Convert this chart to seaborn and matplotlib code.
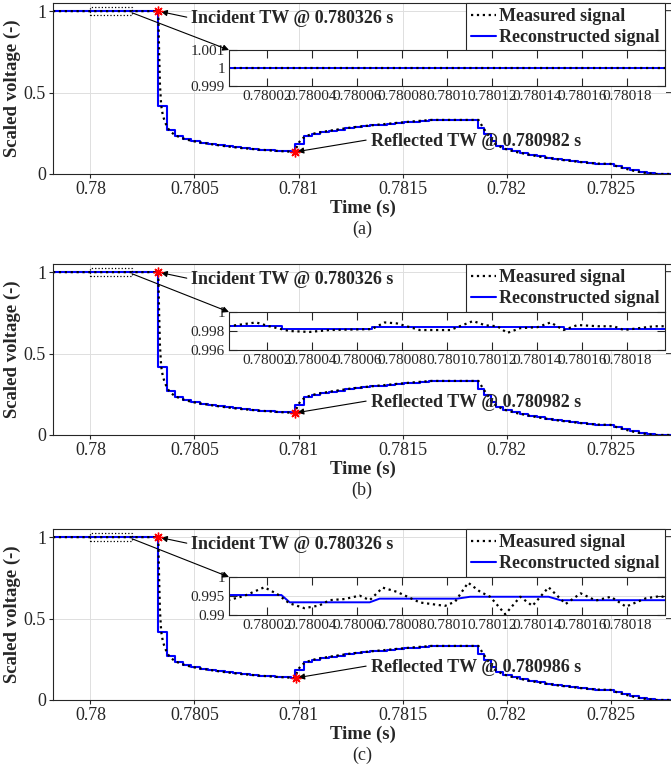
import matplotlib
matplotlib.use("Agg")
import matplotlib.pyplot as plt
import seaborn as sns
import pandas as pd
from matplotlib.lines import Line2D
from matplotlib.patches import Rectangle

W, H = 671, 773
T0 = 0.78  # all time offsets below are microseconds after 0.78 s

# main traces (same shape in the three cases)
rec_us = [-180, 326, 366, 405, 445, 485, 525, 565, 605, 645, 685, 725, 765, 805,
          845, 885, 925, 965, 982, 1025, 1065, 1105, 1145, 1185, 1225, 1265, 1305,
          1345, 1385, 1425, 1465, 1505, 1545, 1585, 1625, 1865, 1890, 1925, 1950,
          1985, 2025, 2065, 2105, 2145, 2185, 2225, 2265, 2305, 2345, 2385, 2425,
          2515, 2555, 2595, 2635, 2675, 2715, 2800]
rec_v = [1.0, 0.42, 0.27, 0.235, 0.215, 0.203, 0.193, 0.185, 0.178, 0.171, 0.165,
         0.159, 0.154, 0.150, 0.146, 0.142, 0.139, 0.136, 0.185, 0.232, 0.245, 0.256,
         0.265, 0.273, 0.280, 0.287, 0.293, 0.298, 0.303, 0.308, 0.313, 0.318, 0.322,
         0.327, 0.332, 0.285, 0.245, 0.205, 0.172, 0.155, 0.140, 0.128, 0.118, 0.108,
         0.100, 0.093, 0.086, 0.080, 0.074, 0.069, 0.062, 0.047, 0.035, 0.022, 0.012,
         0.004, 0.0, 0.0]

meas_us = [-180, 326, 330, 334, 340, 348, 358, 370, 385, 405, 430, 460, 500, 560,
           640, 720, 800, 880, 960, 982, 990, 1000, 1015, 1040, 1080, 1150, 1250,
           1350, 1450, 1550, 1640, 1865, 1880, 1900, 1925, 1950, 1990, 2050, 2150,
           2250, 2350, 2430, 2500, 2530, 2570, 2620, 2670, 2720, 2800]
meas_v = [1.0, 1.0, 0.75, 0.55, 0.42, 0.36, 0.32, 0.285, 0.26, 0.24, 0.225, 0.212,
          0.200, 0.187, 0.172, 0.160, 0.151, 0.143, 0.137, 0.135, 0.16, 0.19, 0.215,
          0.235, 0.25, 0.266, 0.285, 0.299, 0.311, 0.323, 0.332, 0.332, 0.30, 0.26,
          0.215, 0.18, 0.155, 0.134, 0.108, 0.089, 0.074, 0.064, 0.062, 0.048, 0.033,
          0.017, 0.006, 0.0, 0.0]

# inset traces
ins_a_rec_us = [0, 200]
ins_a_rec_v = [1.0, 1.0]
ins_a_meas_us = [0, 200]
ins_a_meas_v = [1.0, 1.0]

ins_b_rec_us = [0, 26.7, 26.7, 66.5, 66.5, 151.9, 151.9, 200]
ins_b_rec_v = [0.99853, 0.99853, 0.99818, 0.99818, 0.99845, 0.99845, 0.99822, 0.99822]
ins_b_meas_us = [2.6, 15.1, 20.9, 29.8, 38.8, 47.7, 66.5, 72.3, 77.7, 87.9, 101.4,
                 111.6, 117.0, 122.4, 126.8, 132.6, 140.2, 146.1, 151.9, 158.1, 167.1,
                 174.2, 178.7, 192.1, 197.5]
ins_b_meas_v = [0.9985, 0.9989, 0.9985, 0.9980, 0.9979, 0.9981, 0.9982, 0.9989,
                0.9988, 0.9981, 0.9981, 0.99905, 0.9986, 0.9985, 0.9978, 0.9983,
                0.9984, 0.9989, 0.9981, 0.99863, 0.9985, 0.9985, 0.9981, 0.9985, 0.9985]

ins_c_rec_us = [0, 26.3, 30.0, 65.6, 70.0, 104.5, 110.3, 145.2, 150.5, 200]
ins_c_rec_v = [0.99526, 0.99526, 0.99334, 0.99334, 0.9943, 0.9943, 0.9948, 0.9948,
               0.9939, 0.9939]
ins_c_meas_us = [2.6, 9.7, 18.7, 24.5, 29.8, 36.5, 43.2, 47.7, 54.4, 61.1, 65.6, 71.4,
                 77.7, 87.9, 99.1, 103.6, 109.4, 114.8, 119.2, 125.9, 132.6, 138.0,
                 145.2, 152.8, 159.5, 166.2, 172.9, 179.6, 188.5, 195.2, 199.7]
ins_c_meas_v = [0.9939, 0.9950, 0.9973, 0.9955, 0.9931, 0.9918, 0.9925, 0.9939,
                0.9942, 0.9951, 0.9939, 0.9972, 0.9961, 0.9933, 0.9924, 0.9935,
                0.9985, 0.9961, 0.9948, 0.9902, 0.9948, 0.9924, 0.9973, 0.9929,
                0.9957, 0.9938, 0.9948, 0.9922, 0.9944, 0.9950, 0.9939]

panel_tags = ["(a)", "(b)", "(c)"]
incident_t = [0.780326, 0.780326, 0.780326]
reflected_t = [0.780982, 0.780982, 0.780986]
reflected_v = [0.135, 0.135, 0.135]
inset_ylims = [(0.999, 1.001), (0.996, 1.0), (0.99, 1.0)]
inset_yticks = [[0.999, 1, 1.001], [0.996, 0.998, 1], [0.99, 0.995, 1]]
inset_ylabels = [["0.999", "1", "1.001"], ["0.996", "0.998", "1"], ["0.99", "0.995", "1"]]
main_xticks = [0.78, 0.7805, 0.781, 0.7815, 0.782, 0.7825]
main_xlabels = ["0.78", "0.7805", "0.781", "0.7815", "0.782", "0.7825"]
inset_xticks = [0.78002, 0.78004, 0.78006, 0.78008, 0.7801, 0.78012, 0.78014, 0.78016, 0.78018]
inset_xlabels = ["0.78002", "0.78004", "0.78006", "0.78008", "0.7801", "0.78012",
                 "0.78014", "0.78016", "0.78018"]

ins_rec = [(ins_a_rec_us, ins_a_rec_v), (ins_b_rec_us, ins_b_rec_v), (ins_c_rec_us, ins_c_rec_v)]
ins_meas = [(ins_a_meas_us, ins_a_meas_v), (ins_b_meas_us, ins_b_meas_v),
            (ins_c_meas_us, ins_c_meas_v)]

# pixel layout
main_top = [3, 264, 529]
main_h = 171
ins_top = [50, 312, 577]
ins_h = [36, 38, 38]

sns.set_theme(style="ticks")
plt.rcParams["font.family"] = ["Liberation Serif", "DejaVu Serif"]
plt.rcParams["axes.edgecolor"] = "#262626"
plt.rcParams["xtick.color"] = "#262626"
plt.rcParams["ytick.color"] = "#262626"
plt.rcParams["axes.linewidth"] = 0.8

BLUE = "#0000ff"


def px_rect(left, top, w, h):
    return [left / W, 1 - (top + h) / H, w / W, h / H]


def to_df(us, v):
    return pd.DataFrame({"t": [T0 + u * 1e-6 for u in us], "v": v})


fig = plt.figure(figsize=(W / 100, H / 100), dpi=100)

for i in range(3):
    ax = fig.add_axes(px_rect(53, main_top[i], 620, main_h))
    rec = to_df(rec_us, rec_v)
    meas = to_df(meas_us, meas_v)
    sns.lineplot(data=rec, x="t", y="v", ax=ax, color=BLUE, lw=1.5,
                 drawstyle="steps-post", estimator=None, sort=False)
    sns.lineplot(data=meas, x="t", y="v", ax=ax, color="black", lw=1.6,
                 linestyle=":", estimator=None, sort=False)
    ax.plot([incident_t[i], reflected_t[i]], [1.0, reflected_v[i]], ls="none",
            marker=(8, 2, 0), ms=7, mew=1.0, color="red", zorder=5)
    ax.set_xlim(0.77982, 0.7828)
    ax.set_ylim(0, 1.05)
    ax.set_xticks(main_xticks)
    ax.set_xticklabels(main_xlabels)
    ax.set_yticks([0, 0.5, 1])
    ax.set_yticklabels(["0", "0.5", "1"])
    ax.tick_params(axis="both", labelsize=13, direction="out", length=3, width=0.8, pad=2)
    ax.grid(True, color="#dedede", lw=0.7)
    ax.set_xlabel("Time (s)", fontsize=13.5, fontweight="bold", labelpad=1)
    ax.set_ylabel("Scaled voltage (-)", fontsize=13.5, fontweight="bold", labelpad=2)
    sec = ax.secondary_yaxis("right")
    sec.set_yticks([0, 0.5, 1])
    sec.tick_params(direction="in", length=5, labelright=False)

    # zoom window on the main trace
    ax.add_patch(Rectangle((0.78, 0.975), 0.0002, 0.05, fill=False, ec="black",
                           ls=":", lw=0.9, zorder=4))

    ax.text(0.780485, 0.955, "Incident TW @ 0.780326 s", fontsize=13,
            fontweight="bold", ha="left", va="center")
    ax.annotate("", xy=(incident_t[i], 1.0), xytext=(0.780463, 0.963),
                arrowprops=dict(arrowstyle="-|>", color="black", lw=0.8,
                                mutation_scale=9, shrinkA=0, shrinkB=2))
    ax.text(0.781350, 0.20, f"Reflected TW @ {reflected_t[i]:.6f} s", fontsize=13,
            fontweight="bold", ha="left", va="center")
    ax.annotate("", xy=(reflected_t[i], reflected_v[i]), xytext=(0.781325, 0.208),
                arrowprops=dict(arrowstyle="-|>", color="black", lw=0.8,
                                mutation_scale=9, shrinkA=0, shrinkB=2))

    handles = [Line2D([], [], color="black", ls=":", lw=1.6),
               Line2D([], [], color=BLUE, lw=1.5)]
    leg = ax.legend(handles, ["Measured signal", "Reconstructed signal"],
                    loc="upper right", bbox_to_anchor=(665 / W, 1 - (main_top[i]) / H),
                    bbox_transform=fig.transFigure, borderaxespad=0, fancybox=False,
                    framealpha=1, edgecolor="#262626", handlelength=1.4,
                    handletextpad=0.15, borderpad=0.3, labelspacing=0.2,
                    prop={"weight": "bold", "size": 13})
    leg.get_frame().set_linewidth(0.8)

    # inset
    ins = fig.add_axes(px_rect(229, ins_top[i], 436, ins_h[i]))
    r_us, r_v = ins_rec[i]
    m_us, m_v = ins_meas[i]
    sns.lineplot(data=to_df(r_us, r_v), x="t", y="v", ax=ins, color=BLUE, lw=1.4,
                 estimator=None, sort=False)
    sns.lineplot(data=to_df(m_us, m_v), x="t", y="v", ax=ins, color="black", lw=1.6,
                 linestyle=":", estimator=None, sort=False)
    ins.set_xlim(0.780003, 0.780197)
    ins.set_ylim(*inset_ylims[i])
    ins.set_xticks(inset_xticks)
    ins.set_xticklabels(inset_xlabels)
    ins.set_yticks(inset_yticks[i])
    ins.set_yticklabels(inset_ylabels[i])
    ins.tick_params(axis="both", labelsize=11, direction="in", length=6, width=0.8,
                    top=True, right=True, pad=3)
    ins.grid(True, axis="y", color="#dedede", lw=0.7)
    ins.set_xlabel("")
    ins.set_ylabel("")
    ins.set_facecolor("white")
    ins.annotate("", xy=(0, 1), xycoords="axes fraction", xytext=(0.7802, 0.99),
                 textcoords=ax.transData, annotation_clip=False,
                 arrowprops=dict(arrowstyle="-|>", color="black", lw=0.8,
                                 mutation_scale=9, shrinkA=0, shrinkB=0))

    fig.text(362 / W, 1 - (main_top[i] + 226) / H, panel_tags[i], fontsize=13,
             ha="center", va="center")

fig.savefig("out.png", dpi=100)
